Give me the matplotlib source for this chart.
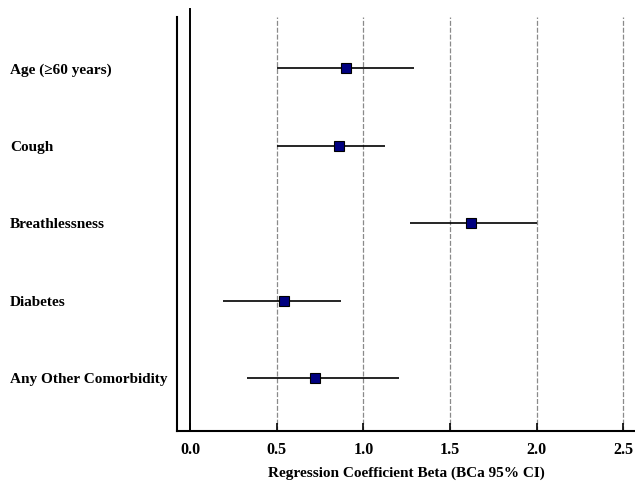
import numpy as np
import matplotlib.pyplot as plt

labels = ['Age (≥60 years)', 'Cough', 'Breathlessness', 'Diabetes', 'Any Other Comorbidity']
beta = [0.90, 0.86, 1.62, 0.54, 0.72]
ci_low = [0.50, 0.50, 1.27, 0.19, 0.33]
ci_high = [1.29, 1.125, 2.00, 0.87, 1.205]
xticks = [0.0, 0.5, 1.0, 1.5, 2.0, 2.5]

plt.rcParams['font.family'] = ['Liberation Serif', 'DejaVu Serif']
plt.rcParams['font.weight'] = 'bold'

fig = plt.figure(figsize=(6.35, 4.84), dpi=100)
ax = fig.add_axes([0.2793, 0.110, 0.7207, 0.855])

ypos = np.arange(len(labels))[::-1] + 1

for xv in xticks[1:]:
    ax.axvline(xv, color='#8a8a8a', lw=0.9, ls=(0, (4, 1.5)), zorder=1)
ax.axvline(0, color='black', lw=1.4, ymax=1.02, clip_on=False, zorder=2)

ax.hlines(ypos, ci_low, ci_high, color='black', lw=1.2, zorder=3)
ax.plot(beta, ypos, ls='none', marker='s', ms=6.5, mfc='#000080', mec='black', mew=0.8, zorder=4)

ax.set_xlim(-0.073, 2.567)
ax.set_ylim(0.325, 5.665)

ax.set_xticks(xticks)
ax.set_xticklabels([f'{v:.1f}' for v in xticks], fontsize=11.5, fontweight='bold')
ax.tick_params(axis='x', direction='in', length=6, width=1.2, pad=8)

ax.set_yticks(ypos)
ax.set_yticklabels(labels, fontsize=11, fontweight='bold')
ax.tick_params(axis='y', length=0, pad=120.5)
for t in ax.get_yticklabels():
    t.set_horizontalalignment('left')

for s in ['top', 'right']:
    ax.spines[s].set_visible(False)
ax.spines['left'].set_linewidth(1.5)
ax.spines['bottom'].set_linewidth(1.5)

ax.set_xlabel('Regression Coefficient Beta (BCa 95% CI)', fontsize=11, fontweight='bold', labelpad=6)

fig.savefig('out.png', dpi=100)
